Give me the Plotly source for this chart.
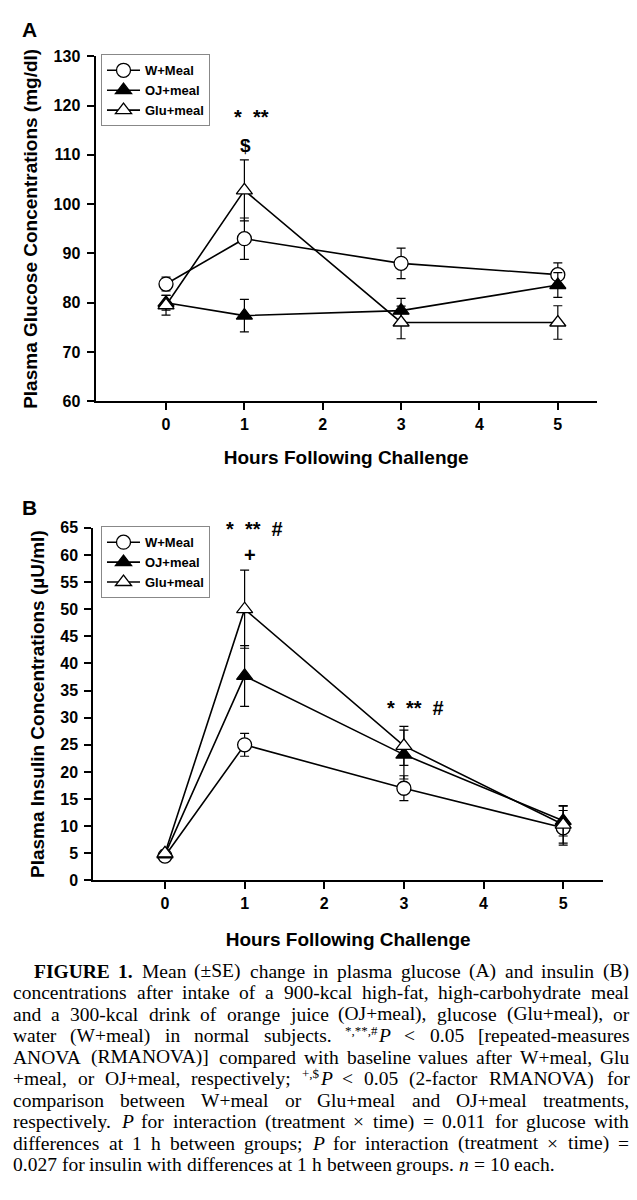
import re
import plotly.graph_objects as go

# ---------------- data ----------------
hours = [0, 1, 3, 5]
series_names = ["W+Meal", "OJ+meal", "Glu+meal"]

glucose_w = [83.8, 93.0, 88.0, 85.7]
glucose_w_se = [1.4, 4.2, 3.1, 2.4]
glucose_oj = [80.0, 77.4, 78.4, 83.6]
glucose_oj_se = [1.5, 3.3, 2.5, 2.5]
glucose_glu = [79.5, 102.8, 76.0, 76.0]
glucose_glu_se = [2.0, 6.2, 3.3, 3.4]

insulin_w = [4.5, 25.0, 17.0, 9.7]
insulin_w_se = [0.5, 2.1, 2.3, 3.2]
insulin_oj = [4.8, 37.7, 23.2, 11.0]
insulin_oj_se = [0.5, 5.6, 4.5, 2.8]
insulin_glu = [5.0, 50.0, 24.8, 10.3]
insulin_glu_se = [0.6, 7.2, 3.6, 3.4]

x_tick_start = 0
x_tick_step = 1

x_title = "Hours Following Challenge"
y_title_a = "Plasma Glucose Concentrations (mg/dl)"
y_title_b = "Plasma Insulin Concentrations (µU/ml)"

# words written as [superscript]|main text
caption_lines = [
    "<b>FIGURE</b> <b>1.</b> Mean (±SE) change in plasma glucose (A) and insulin (B)",
    "concentrations after intake of a 900-kcal high-fat, high-carbohydrate meal",
    "and a 300-kcal drink of orange juice (OJ+meal), glucose (Glu+meal), or",
    "water (W+meal) in normal subjects. *,**,#|<i>P</i> &lt; 0.05 [repeated-measures",
    "ANOVA (RMANOVA)] compared with baseline values after W+meal, Glu",
    "+meal, or OJ+meal, respectively; +,$|<i>P</i> &lt; 0.05 (2-factor RMANOVA) for",
    "comparison between W+meal or Glu+meal and OJ+meal treatments,",
    "respectively. <i>P</i> for interaction (treatment × time) = 0.011 for glucose with",
    "differences at 1 h between groups; <i>P</i> for interaction (treatment × time) =",
    "0.027 for insulin with differences at 1 h between groups. <i>n</i> = 10 each.",
]

# ---------------- helpers ----------------
W, H = 637, 1200


def px(xp):
    return xp / W


def py(yp):
    return 1 - yp / H


SANS = "Liberation Sans"
SERIF = "Liberation Serif"

ROMAN = {' ': 250, '(': 333, ')': 333, '[': 333, ']': 333, ',': 250, '.': 250, ';': 278,
         ':': 278, '-': 333, '+': 564, '=': 564, '<': 564, '×': 564, '±': 564, '*': 500,
         '#': 500, '$': 500, '/': 278,
         'a': 444, 'b': 500, 'c': 444, 'd': 500, 'e': 444, 'f': 333, 'g': 500, 'h': 500,
         'i': 278, 'j': 278, 'k': 500, 'l': 278, 'm': 778, 'n': 500, 'o': 500, 'p': 500,
         'q': 500, 'r': 333, 's': 389, 't': 278, 'u': 500, 'v': 500, 'w': 722, 'x': 500,
         'y': 500, 'z': 444,
         'A': 722, 'B': 667, 'C': 667, 'D': 722, 'E': 611, 'F': 556, 'G': 722, 'H': 722,
         'I': 333, 'J': 389, 'K': 722, 'L': 611, 'M': 889, 'N': 722, 'O': 722, 'P': 556,
         'Q': 722, 'R': 667, 'S': 556, 'T': 611, 'U': 722, 'V': 722, 'W': 944, 'X': 722,
         'Y': 722, 'Z': 611}
BOLD = {'F': 611, 'I': 389, 'G': 778, 'U': 722, 'R': 722, 'E': 667}
ITAL = {'P': 611, 'n': 500}


def text_width(word, size):
    word = word.replace("&lt;", "<")
    parts = re.split(r'(</?(?:b|i)>)', word)
    bold = ital = False
    w = 0.0
    for p in parts:
        if p in ("<b>", "</b>", "<i>", "</i>"):
            on = not p.startswith("</")
            if p.strip("<>/") == "b":
                bold = on
            else:
                ital = on
            continue
        for ch in p:
            base = ROMAN.get(ch, 500)
            if bold:
                base = BOLD.get(ch, base)
            if ital:
                base = ITAL.get(ch, base)
            w += base / 1000 * size
    return w


# ---------------- figure ----------------
fig = go.Figure()

marker_styles = [
    dict(symbol="circle", size=14, color="white", line=dict(color="black", width=1.3)),
    dict(symbol="triangle-up", size=14, color="black", line=dict(color="black", width=1.3)),
    dict(symbol="triangle-up", size=14, color="white", line=dict(color="black", width=1.3)),
]

glucose_sets = [(glucose_w, glucose_w_se), (glucose_oj, glucose_oj_se), (glucose_glu, glucose_glu_se)]
insulin_sets = [(insulin_w, insulin_w_se), (insulin_oj, insulin_oj_se), (insulin_glu, insulin_glu_se)]

for i, (vals, se) in enumerate(glucose_sets):
    fig.add_trace(go.Scatter(
        x=hours, y=vals, name=series_names[i], mode="lines+markers",
        line=dict(color="black", width=1.6), marker=marker_styles[i],
        error_y=dict(type="data", array=se, visible=True, color="black", thickness=1.2, width=4.5),
        xaxis="x", yaxis="y", legend="legend", legendgroup=f"a{i}",
    ))

for i, (vals, se) in enumerate(insulin_sets):
    fig.add_trace(go.Scatter(
        x=hours, y=vals, name=series_names[i], mode="lines+markers",
        line=dict(color="black", width=1.6), marker=marker_styles[i],
        error_y=dict(type="data", array=se, visible=True, color="black", thickness=1.2, width=4.5),
        xaxis="x2", yaxis="y2", legend="legend2", legendgroup=f"b{i}",
    ))

tickfont = dict(family=SANS, size=16, color="black", weight="bold")
titlefont = dict(family=SANS, size=19, color="black", weight="bold")
axis_common = dict(showline=True, linecolor="black", linewidth=2, ticks="outside",
                   ticklen=7, tickwidth=1.5, tickcolor="black", showgrid=False,
                   zeroline=False, tickfont=tickfont, fixedrange=True)

legend_common = dict(xanchor="left", yanchor="top", bgcolor="white",
                     bordercolor="#888888", borderwidth=1,
                     font=dict(family=SANS, size=13, color="black", weight="bold"),
                     tracegroupgap=0, itemwidth=33)

fig.update_layout(
    width=W, height=H,
    margin=dict(l=0, r=0, t=0, b=0),
    paper_bgcolor="white", plot_bgcolor="white",
    xaxis=dict(domain=[px(95.5), px(597)], range=[-0.9, 5.5], tickmode="linear",
               tick0=x_tick_start, dtick=x_tick_step, anchor="y",
               title=dict(text=x_title, font=titlefont, standoff=19), **axis_common),
    yaxis=dict(domain=[py(399), py(49)], range=[60, 130], dtick=10, anchor="x",
               ticklabelstandoff=3,
               title=dict(text=y_title_a, font=titlefont, standoff=11), **axis_common),
    xaxis2=dict(domain=[px(93.3), px(603)], range=[-0.9, 5.5], tickmode="linear",
                tick0=x_tick_start, dtick=x_tick_step, anchor="y2",
                title=dict(text=x_title, font=titlefont, standoff=22), **axis_common),
    yaxis2=dict(domain=[py(885), py(527.3)], range=[0, 65], dtick=5, anchor="x2",
                ticklabelstandoff=3,
                title=dict(text=y_title_b, font=titlefont, standoff=11), **axis_common),
    legend=dict(x=px(101), y=py(47), **legend_common),
    legend2=dict(x=px(101), y=py(525.7), **legend_common),
    showlegend=True,
)

ann = []


def add_text(text, xp, yp, size, family=SANS, weight="bold", angle=0, xanchor="center"):
    ann.append(dict(text=text, x=px(xp), y=py(yp), xref="paper", yref="paper",
                    showarrow=False, textangle=angle, xanchor=xanchor, yanchor="middle",
                    font=dict(family=family, size=size, color="black", weight=weight)))


# panel labels
add_text("A", 29.5, 22, 21)
add_text("B", 29.5, 507, 21)

# significance marks
add_text("*  **", 251, 111, 20)
add_text("$", 246, 139, 19)
add_text("*  **  #", 254, 528, 20)
add_text("+", 250, 555, 20)
add_text("*  **  #", 415, 710, 20)

# caption, justified word by word
CAP_SIZE = 19.5
SUP_SIZE = 13
SUP_RAISE = 5
LEFT, RIGHT = 12, 628


def cap_ann(text, xp, yp, size):
    ann.append(dict(text=text, x=px(xp), y=py(yp), xref="paper", yref="paper",
                    showarrow=False, xanchor="left", yanchor="middle",
                    font=dict(family=SERIF, size=size, color="black")))


for li, line in enumerate(caption_lines):
    words = line.split(" ")
    pieces = []
    for w_ in words:
        if "|" in w_:
            sup, main = w_.split("|", 1)
        else:
            sup, main = "", w_
        pieces.append((sup, main, text_width(sup, SUP_SIZE), text_width(main, CAP_SIZE)))
    total = sum(p[2] + p[3] for p in pieces)
    left = 33 if li == 0 else LEFT
    last = li == len(caption_lines) - 1
    if last:
        gap = 0.25 * CAP_SIZE
    else:
        gap = (RIGHT - left - total) / (len(pieces) - 1)
    xcur = left
    yc = 977 + li * 21.8
    for sup, main, wsup, wmain in pieces:
        if sup:
            cap_ann(sup, xcur - 1, yc - SUP_RAISE, SUP_SIZE)
            xcur += wsup + 0.5
        cap_ann(main, xcur - 1, yc, CAP_SIZE)
        xcur += wmain + gap

fig.update_layout(annotations=ann)

fig.write_html("out.html")
